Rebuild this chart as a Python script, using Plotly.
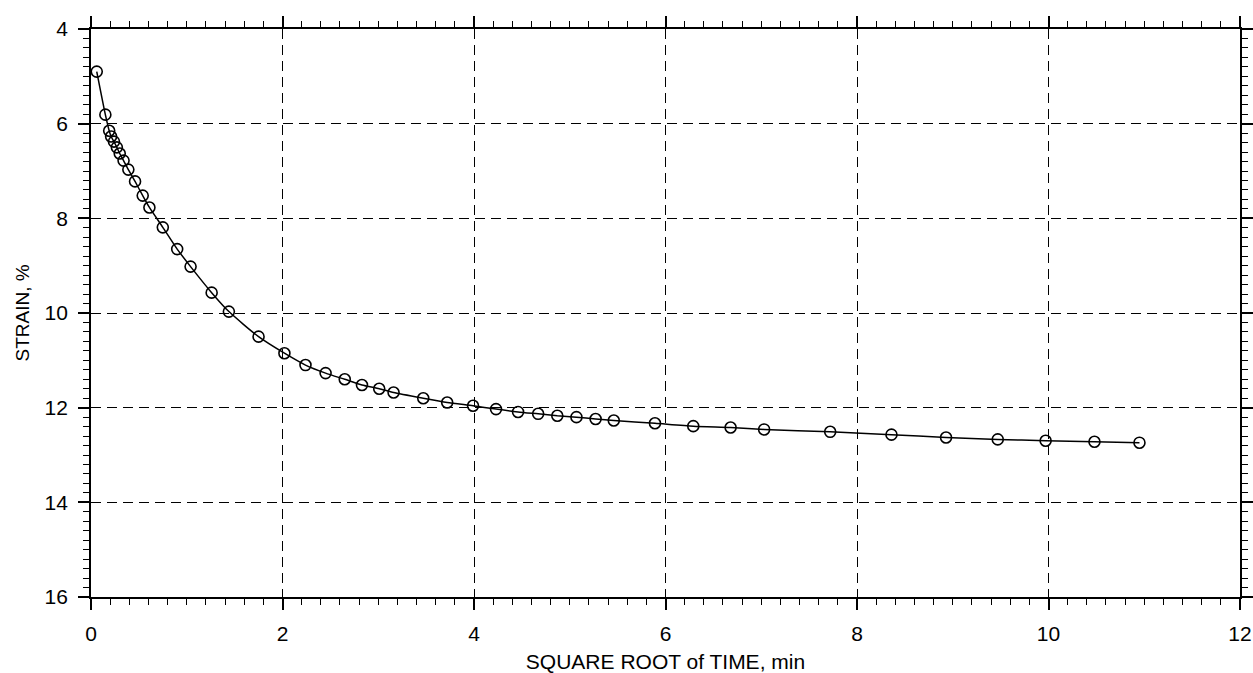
import plotly.graph_objects as go

# Consolidation reading: strain vs square root of elapsed time
sqrt_time = [0.06, 0.15, 0.19, 0.21, 0.24, 0.27, 0.30, 0.34, 0.39, 0.46, 0.54, 0.61,
             0.75, 0.90, 1.04, 1.26, 1.44, 1.75, 2.02, 2.24, 2.45, 2.65, 2.83, 3.01,
             3.16, 3.47, 3.72, 3.99, 4.23, 4.46, 4.67, 4.87, 5.07, 5.27, 5.46, 5.89,
             6.29, 6.68, 7.03, 7.72, 8.36, 8.93, 9.47, 9.97, 10.48, 10.95]
strain_pct = [4.90, 5.81, 6.15, 6.27, 6.38, 6.50, 6.63, 6.78, 6.97, 7.22, 7.52, 7.77,
              8.19, 8.65, 9.02, 9.57, 9.97, 10.50, 10.85, 11.10, 11.27, 11.40, 11.52, 11.60,
              11.68, 11.80, 11.89, 11.96, 12.03, 12.09, 12.13, 12.17, 12.20, 12.24, 12.27, 12.33,
              12.39, 12.42, 12.46, 12.51, 12.57, 12.63, 12.67, 12.70, 12.72, 12.74]

x_ticks = [0, 2, 4, 6, 8, 10, 12]
y_ticks = [4, 6, 8, 10, 12, 14, 16]

FONT = "Liberation Sans, Arial, sans-serif"

fig = go.Figure()
fig.add_trace(go.Scatter(
    x=sqrt_time, y=strain_pct,
    mode="lines+markers",
    line=dict(color="black", width=1.5, shape="spline", smoothing=0.6),
    marker=dict(symbol="circle-open", size=11, color="black", line=dict(width=1.6, color="black")),
    showlegend=False,
))

axis_common = dict(
    automargin=False,
    showline=True, linecolor="black", linewidth=1.8, mirror="allticks",
    tickmode="linear", tick0=0, dtick=2,
    ticks="outside", ticklen=11, tickwidth=1.5, tickcolor="black",
    showgrid=True, gridcolor="black", griddash="10px,6px", gridwidth=1.1,
    zeroline=False,
    tickfont=dict(family=FONT, size=21, color="black"),
    minor=dict(ticks="outside", ticklen=6, tickwidth=1.3, tickcolor="black",
               tickmode="linear", dtick=0.2, showgrid=False),
)

fig.update_xaxes(
    range=[0, 12], ticklabelstandoff=6,
    title=dict(text="SQUARE ROOT of TIME, min", font=dict(family=FONT, size=21, color="black"), standoff=20),
    **axis_common,
)
fig.update_yaxes(
    range=[16, 4], ticklabelstandoff=6,
    title=dict(text="STRAIN, %", font=dict(family=FONT, size=19, color="black"), standoff=10),
    **axis_common,
)

fig.update_layout(
    width=1253, height=673,
    margin=dict(l=91, r=13, t=29, b=76),
    paper_bgcolor="white", plot_bgcolor="white",
    font=dict(family=FONT, color="black"),
)

fig.write_html("out.html")
